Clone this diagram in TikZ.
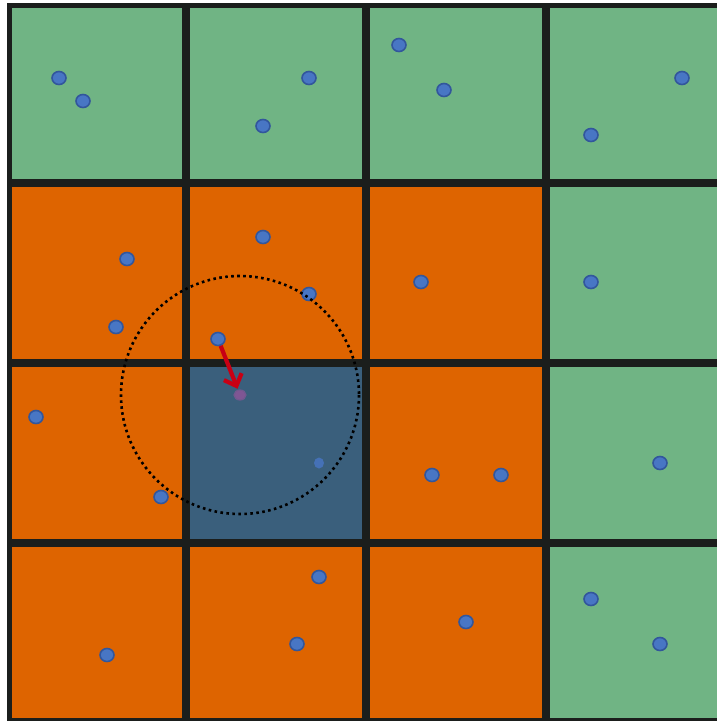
\documentclass[tikz,border=0pt]{standalone}
\usetikzlibrary{arrows.meta, shapes.geometric}

\definecolor{cellgreen}{RGB}{112,180,132}
\definecolor{cellorange}{RGB}{222,100,0}
\definecolor{cellblue}{RGB}{58,95,124}
\definecolor{gridline}{RGB}{27,30,28}
\definecolor{dotblue}{RGB}{72,118,196}
\definecolor{dotedge}{RGB}{50,86,156}
\definecolor{dotpurple}{RGB}{128,86,148}
\definecolor{reacharrow}{RGB}{200,0,20}

\begin{document}
\begin{tikzpicture}[x=1pt, y=-1pt,
    point/.style={ellipse, inner sep=0pt, minimum width=14pt, minimum height=13pt,
      fill=dotblue, draw=dotedge, line width=1.6pt},
    faintpoint/.style={ellipse, inner sep=0pt, minimum width=10pt, minimum height=11pt,
      fill=dotblue!80!cellblue},
    target/.style={ellipse, inner sep=0pt, minimum width=12pt, minimum height=10pt,
      fill=dotpurple, draw=dotpurple!80!cellblue, line width=1.2pt},
    green/.style={fill=cellgreen},
    orange/.style={fill=cellorange},
    query/.style={fill=cellblue}]
  \useasboundingbox (0,0) rectangle (717,721);
  \fill[white] (0,0) rectangle (717,721);
  \clip (0,0) rectangle (717,721);

  % cells, row by row
  \foreach \x/\y/\kind in {9/5/green, 186/5/green, 366/5/green, 546/5/green,
      9/183/orange, 186/183/orange, 366/183/orange, 546/183/green,
      9/363/orange, 186/363/query, 366/363/orange, 546/363/green,
      9/543/orange, 186/543/orange, 366/543/orange, 546/543/green}
    \path[\kind] (\x,\y) rectangle ++(180,180);

  % grid
  \foreach \x in {186, 366, 546}
    \draw[gridline, line width=7.5pt] (\x,5) -- (\x,721);
  \foreach \y in {183, 363, 543}
    \draw[gridline, line width=7.5pt] (9,\y) -- (717,\y);
  \draw[gridline, line width=5pt] (717,5) -- (9,5) -- (9,720) -- (717,720);

  % samples
  \node[point] (a1) at (59,78) {};
  \node[point] (a2) at (83,101) {};
  \node[point] (a3) at (309,78) {};
  \node[point] (a4) at (263,126) {};
  \node[point] (a5) at (399,45) {};
  \node[point] (a6) at (444,90) {};
  \node[point] (a7) at (682,78) {};
  \node[point] (a8) at (591,135) {};

  \node[point] (b1) at (127,259) {};
  \node[point] (b2) at (116,327) {};
  \node[point] (b3) at (263,237) {};
  \node[point] (b4) at (309,294) {};
  \node[point] (b5) at (218,339) {};
  \node[point] (b6) at (421,282) {};
  \node[point] (b7) at (591,282) {};

  \node[point] (c1) at (36,417) {};
  \node[point] (c2) at (161,497) {};
  \node[faintpoint] (c3) at (319,463) {};
  \node[point] (c4) at (432,475) {};
  \node[point] (c5) at (501,475) {};
  \node[point] (c6) at (660,463) {};

  \node[point] (d1) at (107,655) {};
  \node[point] (d2) at (319,577) {};
  \node[point] (d3) at (297,644) {};
  \node[point] (d4) at (466,622) {};
  \node[point] (d5) at (591,599) {};
  \node[point] (d6) at (660,644) {};

  % query sample and its search radius
  \node[target] (q) at (240,395) {};
  \draw[black, line width=2.6pt, dash pattern=on 2.6pt off 3.4pt] (q) circle (119);

  \draw[reacharrow, line width=4.2pt,
    -{Straight Barb[length=10pt, width=19pt, line width=4.2pt]}, shorten >=1pt]
    (b5) -- (q);
\end{tikzpicture}
\end{document}
